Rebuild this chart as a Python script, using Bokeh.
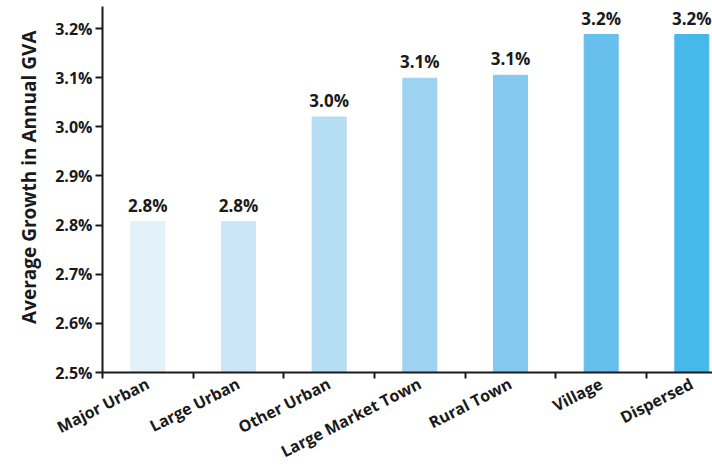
import numpy as np
from bokeh.plotting import figure
from bokeh.models import (ColumnDataSource, FixedTicker, PrintfTickFormatter,
                          LabelSet, Title, Range1d)
from bokeh.core.properties import value
from bokeh.embed import file_html
from bokeh.resources import INLINE

# ---- data ----
categories = ["Major Urban", "Large Urban", "Other Urban", "Large Market Town",
              "Rural Town", "Village", "Dispersed"]
growth = [2.807, 2.807, 3.020, 3.099, 3.105, 3.188, 3.188]
colors = ["#e3f1fa", "#cce6f7", "#b5ddf4", "#9dd3f1", "#84c9f0", "#66bfec", "#46b8e9"]
y_ticks = [2.5, 2.6, 2.7, 2.8, 2.9, 3.0, 3.1, 3.2]

FONT = "Open Sans"
DARK = "#1a1a1a"

centers = [i + 0.5 for i in range(len(categories))]
bounds = list(range(len(categories) + 1))
labels = ["%.1f%%" % v for v in growth]

src = ColumnDataSource(dict(x=centers, top=growth, color=colors, label=labels))

p = figure(width=712, height=475, output_backend="svg", toolbar_location=None,
           x_range=Range1d(0, 6.728), y_range=Range1d(2.5, 3.245),
           min_border_left=102, min_border_top=6, min_border_right=0,
           min_border_bottom=101)
p.outline_line_color = None
p.grid.grid_line_color = None
p.background_fill_color = "white"
p.border_fill_color = "white"

p.vbar(x="x", top="top", bottom=2.5, width=0.375, color="color", source=src)

lbl = LabelSet(x="x", y="top", text="label", source=src, y_offset=10,
               text_align="center", text_baseline="alphabetic",
               text_font=value(FONT), text_font_style="bold",
               text_font_size="17px", text_color=DARK)
p.add_layout(lbl)

# y axis
ya = p.yaxis[0]
ya.ticker = FixedTicker(ticks=y_ticks)
ya.formatter = PrintfTickFormatter(format="%.1f%%")
ya.axis_line_width = 2
ya.axis_line_color = DARK
ya.major_tick_line_width = 2
ya.major_tick_line_color = DARK
ya.major_tick_out = 7
ya.major_tick_in = 0
ya.minor_tick_line_color = None
ya.major_label_text_font = FONT
ya.major_label_text_font_style = "bold"
ya.major_label_text_font_size = "16px"
ya.major_label_text_color = DARK
ya.major_label_standoff = 3

# x axis
xa = p.xaxis[0]
xa.ticker = FixedTicker(ticks=centers, minor_ticks=bounds)
xa.major_label_overrides = {c: name for c, name in zip(centers, categories)}
xa.axis_line_width = 2
xa.axis_line_color = DARK
xa.major_tick_line_color = None
xa.major_tick_out = 0
xa.major_tick_in = 0
xa.minor_tick_line_color = DARK
xa.minor_tick_line_width = 2
xa.minor_tick_out = 6
xa.minor_tick_in = 0
xa.major_label_orientation = 0.47
xa.major_label_text_font = FONT
xa.major_label_text_font_style = "bold"
xa.major_label_text_font_size = "16px"
xa.major_label_text_color = DARK
xa.major_label_standoff = 4

# y axis title
title = Title(text="Average Growth in Annual GVA", align="right", offset=24,
              standoff=19, vertical_align="middle", text_font=FONT,
              text_font_style="bold", text_font_size="19px", text_color=DARK)
p.add_layout(title, "left")

open("out.html", "w").write(file_html(p, INLINE))
